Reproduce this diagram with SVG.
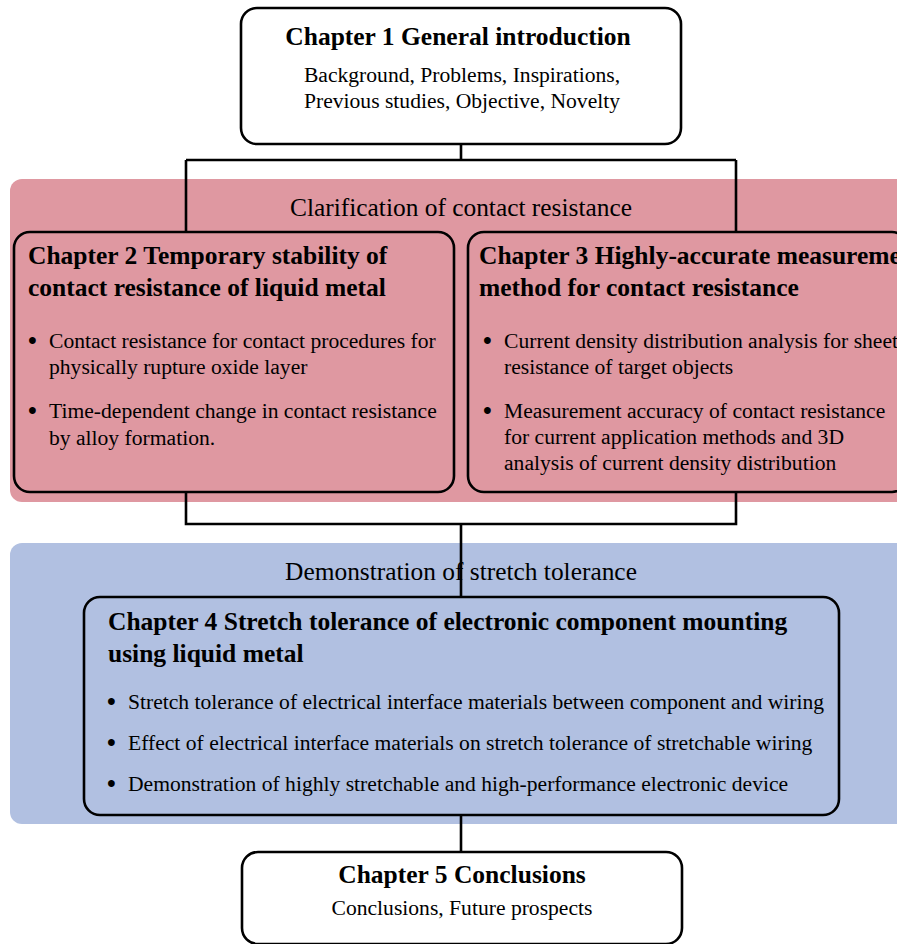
<svg xmlns="http://www.w3.org/2000/svg" width="897" height="944" viewBox="0 0 897 944">
<style>
.box{stroke:#000;stroke-width:2.6}
.ln{stroke:#000;stroke-width:2.6;fill:none}
.t{font-family:"Liberation Serif","Times New Roman",serif;fill:#000}
.b{font-weight:bold;font-size:25.5px}
.r{font-size:21.6px}
.h{font-size:25.4px}
.d{font-size:25px;font-weight:bold}
</style>
<rect width="897" height="944" fill="#fff"/>
<g id="band-pink"><rect x="10" y="179" width="900" height="323" rx="12" fill="#df98a1"/>
<text class="t h" x="461" y="216" text-anchor="middle">Clarification of contact resistance</text></g>
<g id="band-blue"><rect x="10" y="543" width="900" height="281" rx="12" fill="#b1c0e1"/>
<text class="t h" x="461" y="580" text-anchor="middle">Demonstration of stretch tolerance</text></g>
<g id="connectors">
<path class="ln" d="M461 144 V160 M186 160 H736 M186 160 V232 M736 160 V232"/>
<path class="ln" d="M186 492 V524 H736 V492 M461 524 V597"/>
<path class="ln" d="M461 815 V852"/>
</g>
<g id="ch1"><rect class="box" x="241" y="8" width="440" height="136" rx="16" fill="#fff"/>
<text class="t b" x="458" y="45" text-anchor="middle">Chapter 1 General introduction</text>
<text class="t r" x="462" y="82" text-anchor="middle">Background, Problems, Inspirations,</text>
<text class="t r" x="462" y="108" text-anchor="middle">Previous studies, Objective, Novelty</text></g>
<g id="ch2"><rect class="box" x="14" y="232" width="440" height="260" rx="16" fill="none"/>
<text class="t b" x="28" y="264">Chapter 2 Temporary stability of</text>
<text class="t b" x="28" y="296">contact resistance of liquid metal</text>
<text class="t d" x="28" y="349">•</text><text class="t r" x="49" y="348">Contact resistance for contact procedures for</text>
<text class="t r" x="49" y="374">physically rupture oxide layer</text>
<text class="t d" x="28" y="419">•</text><text class="t r" x="49" y="418">Time-dependent change in contact resistance</text>
<text class="t r" x="49" y="445">by alloy formation.</text></g>
<g id="ch3"><rect class="box" x="468" y="232" width="440" height="260" rx="16" fill="none"/>
<text class="t b" x="479" y="264">Chapter 3 Highly-accurate measurement</text>
<text class="t b" x="479" y="296">method for contact resistance</text>
<text class="t d" x="483" y="349">•</text><text class="t r" x="504" y="348">Current density distribution analysis for sheet</text>
<text class="t r" x="504" y="374">resistance of target objects</text>
<text class="t d" x="483" y="419">•</text><text class="t r" x="504" y="418">Measurement accuracy of contact resistance</text>
<text class="t r" x="504" y="444">for current application methods and 3D</text>
<text class="t r" x="504" y="470">analysis of current density distribution</text></g>
<g id="ch4"><rect class="box" x="84" y="597" width="755" height="218" rx="16" fill="none"/>
<text class="t b" x="108" y="630">Chapter 4 Stretch tolerance of electronic component mounting</text>
<text class="t b" x="108" y="662">using liquid metal</text>
<text class="t d" x="107" y="710">•</text><text class="t r" x="128" y="709">Stretch tolerance of electrical interface materials between component and wiring</text>
<text class="t d" x="107" y="751">•</text><text class="t r" x="128" y="750">Effect of electrical interface materials on stretch tolerance of stretchable wiring</text>
<text class="t d" x="107" y="792">•</text><text class="t r" x="128" y="791">Demonstration of highly stretchable and high-performance electronic device</text></g>
<g id="ch5"><rect class="box" x="242" y="852" width="440" height="92" rx="16" fill="#fff"/>
<text class="t b" x="462" y="883" text-anchor="middle">Chapter 5 Conclusions</text>
<text class="t r" x="462" y="915" text-anchor="middle">Conclusions, Future prospects</text></g>
</svg>
